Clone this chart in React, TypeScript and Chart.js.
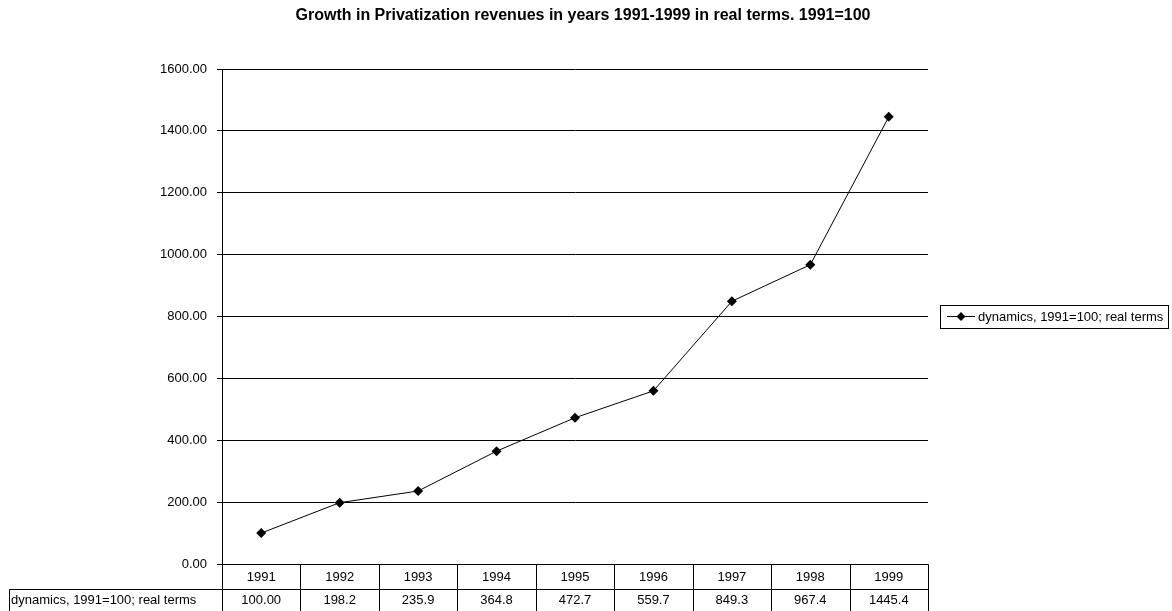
import React, { useEffect, useRef } from "react";
import { Chart, registerables } from "chart.js";

Chart.register(...registerables);

const TITLE = "Growth in Privatization revenues in years 1991-1999 in real terms. 1991=100";
const SERIES_NAME = "dynamics, 1991=100; real terms";
const YEARS = ["1991", "1992", "1993", "1994", "1995", "1996", "1997", "1998", "1999"];
const VALUES = [100.0, 198.2, 235.9, 364.8, 472.7, 559.7, 849.3, 967.4, 1445.4];
const VALUE_LABELS = ["100.00", "198.2", "235.9", "364.8", "472.7", "559.7", "849.3", "967.4", "1445.4"];
const Y_MIN = 0;
const Y_MAX = 1600;
const Y_STEP = 200;

const FONT = '"Liberation Sans", Arial, sans-serif';

const customPlugin = {
  id: "excelDecor",
  afterDraw(chart: any) {
    const ctx = chart.ctx as CanvasRenderingContext2D;
    const { left, right, bottom } = chart.chartArea;
    ctx.save();
    // Title
    ctx.fillStyle = "#000";
    ctx.font = "bold 16px " + FONT;
    ctx.textAlign = "center";
    ctx.textBaseline = "middle";
    ctx.fillText(TITLE, 583, 16);

    // Data table
    const n = YEARS.length;
    const colW = (right - left) / n;
    const r1Top = Math.round(bottom) + 0.5;
    const r1Bot = 589.5;
    const r2Bot = 630;
    const labelLeft = 9.5;
    ctx.strokeStyle = "#000";
    ctx.lineWidth = 1;
    ctx.beginPath();
    ctx.moveTo(Math.round(left) + 0.5, r1Top);
    ctx.lineTo(Math.round(right) + 0.5, r1Top);
    ctx.moveTo(labelLeft, r1Bot);
    ctx.lineTo(Math.round(right) + 0.5, r1Bot);
    for (let i = 0; i <= n; i++) {
      const x = Math.round(left + i * colW) + 0.5;
      ctx.moveTo(x, r1Top);
      ctx.lineTo(x, r2Bot);
    }
    ctx.moveTo(labelLeft, r1Bot);
    ctx.lineTo(labelLeft, r2Bot);
    ctx.stroke();

    ctx.font = "13px " + FONT;
    ctx.textAlign = "center";
    ctx.textBaseline = "middle";
    for (let i = 0; i < n; i++) {
      const cx = left + (i + 0.5) * colW;
      ctx.fillText(YEARS[i], cx, 577);
      ctx.fillText(VALUE_LABELS[i], cx, 600);
    }
    ctx.textAlign = "left";
    ctx.fillText(SERIES_NAME, 11, 600);

    // Legend
    ctx.strokeRect(940.5, 305.5, 228, 23);
    ctx.beginPath();
    ctx.moveTo(947, 316.5);
    ctx.lineTo(975, 316.5);
    ctx.stroke();
    ctx.beginPath();
    ctx.moveTo(961, 312);
    ctx.lineTo(965.5, 316.5);
    ctx.lineTo(961, 321);
    ctx.lineTo(956.5, 316.5);
    ctx.closePath();
    ctx.fill();
    ctx.textAlign = "left";
    ctx.fillText(SERIES_NAME, 978, 317);
    ctx.restore();
  },
};

export default function App() {
  const ref = useRef<HTMLCanvasElement>(null);
  useEffect(() => {
    if (!ref.current) return;
    const chart = new Chart(ref.current, {
      type: "line",
      data: {
        labels: YEARS,
        datasets: [
          {
            label: SERIES_NAME,
            data: VALUES,
            borderColor: "#000",
            backgroundColor: "#000",
            borderWidth: 1,
            pointStyle: "rectRot",
            pointRadius: 5,
            pointBorderWidth: 0,
            pointBackgroundColor: "#000",
            tension: 0,
          },
        ],
      },
      options: {
        responsive: false,
        animation: false,
        layout: { padding: { left: 0, right: 244, top: 69, bottom: 47 } },
        plugins: {
          legend: { display: false },
          title: { display: false },
          tooltip: { enabled: false },
        },
        scales: {
          x: {
            type: "category",
            display: false,
            offset: true,
          },
          y: {
            min: Y_MIN,
            max: Y_MAX,
            afterFit(scale: any) {
              scale.width = 222;
            },
            ticks: {
              stepSize: Y_STEP,
              color: "#000",
              font: { family: FONT, size: 13 },
              padding: 10,
              callback: (v: any) => Number(v).toFixed(2),
            },
            grid: {
              color: "#000",
              lineWidth: 1,
              drawTicks: true,
              tickLength: 5,
              tickColor: "#000",
            },
            border: { display: true, color: "#000", width: 1 },
          },
        },
      },
      plugins: [customPlugin],
    });
    return () => chart.destroy();
  }, []);
  return (
    <div style={{ position: "absolute", left: 0, top: 0, width: 1172, height: 611, background: "#fff" }}>
      <canvas ref={ref} width={1172} height={611} style={{ display: "block" }} />
    </div>
  );
}
